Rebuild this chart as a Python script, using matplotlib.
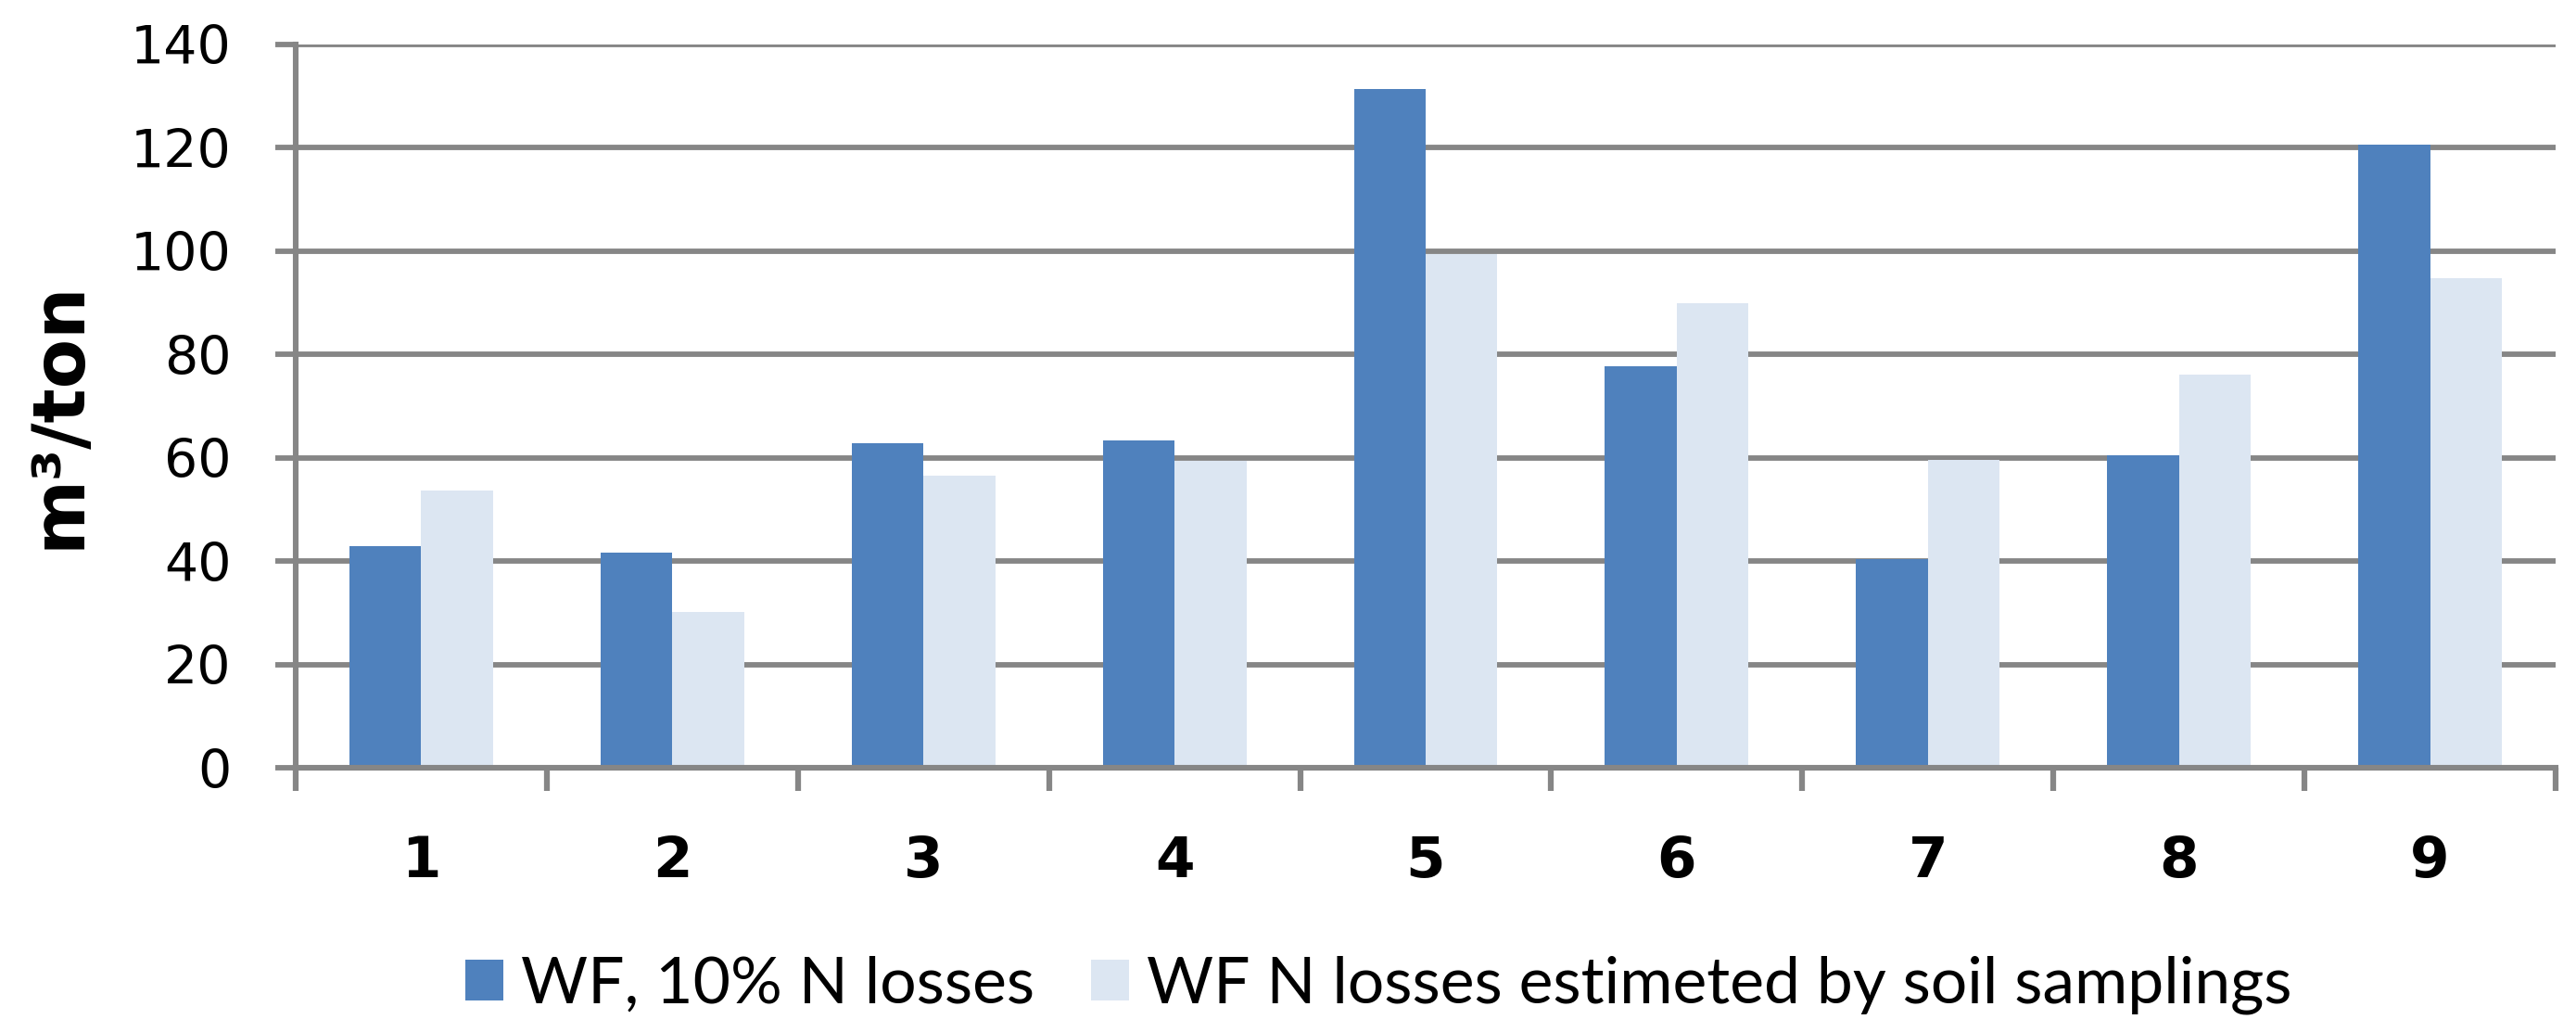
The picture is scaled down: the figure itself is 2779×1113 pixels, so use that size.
import matplotlib
matplotlib.use("Agg")
import matplotlib.pyplot as plt
from matplotlib.patches import Patch
import numpy as np

categories = ["1", "2", "3", "4", "5", "6", "7", "8", "9"]
wf_10pct = [42.9, 41.7, 62.8, 63.4, 131.4, 77.6, 40.3, 60.5, 120.5]
wf_soil = [53.7, 30.2, 56.5, 59.4, 99.4, 89.8, 59.6, 76.0, 94.8]
series_names = ["WF, 10% N losses", "WF N losses estimeted by soil samplings"]
y_ticks = [0, 20, 40, 60, 80, 100, 120, 140]
y_label = "m³/ton"

DARK = "#4F81BD"
LIGHT = "#DCE6F2"
GRID = "#868686"
LEG_FONT = ["Lato", "DejaVu Sans"]

W, H = 2779, 1113
DPI = 100
fig = plt.figure(figsize=(W / DPI, H / DPI), dpi=DPI)
fig.patch.set_facecolor("white")

left, right, bottom, top = 319 / W, 2757 / W, 1 - 828 / H, 1 - 47.6 / H
ax = fig.add_axes([left, bottom, right - left, top - bottom])

n = len(categories)
centers = np.arange(n) + 0.5
bw = 1 / 3.5
ax.bar(centers - bw / 2, wf_10pct, width=bw, color=DARK, zorder=2, label=series_names[0])
ax.bar(centers + bw / 2, wf_soil, width=bw, color=LIGHT, zorder=2, label=series_names[1])

ax.set_xlim(0, n)
ax.set_ylim(0, 140)
ax.set_yticks(y_ticks)
ax.yaxis.grid(True, color=GRID, linewidth=4.2)
ax.set_axisbelow(True)

ax.set_xticks(np.arange(n + 1))
ax.set_xticklabels([])
ax.set_xticks(centers, minor=True)
ax.set_xticklabels(categories, minor=True, fontsize=44, fontweight="bold",
                   fontfamily="DejaVu Sans")
ax.tick_params(axis="x", which="major", length=18, width=4.5, color=GRID, direction="out")
ax.tick_params(axis="x", which="minor", length=0, pad=52)
ax.tick_params(axis="y", length=16, width=4.2, color=GRID, direction="out", pad=34,
               labelsize=41)
for lab in ax.get_yticklabels():
    lab.set_fontfamily("DejaVu Sans")

for s in ["top", "right"]:
    ax.spines[s].set_visible(False)
for s in ["left", "bottom"]:
    ax.spines[s].set_color(GRID)
    ax.spines[s].set_linewidth(4.4)

fig.text(64 / W, 1 - 447 / H, y_label, rotation=90, ha="center", va="center",
         fontsize=56, fontweight="bold", fontfamily="DejaVu Sans")

# fit legend font so that the two label texts span roughly the reference width
fig.canvas.draw()
renderer = fig.canvas.get_renderer()
base_fs = 48
widths = []
for name in series_names:
    t = fig.text(0, 0, name, fontfamily=LEG_FONT, fontsize=base_fs)
    widths.append(t.get_window_extent(renderer).width)
    t.remove()
target_text_px = 539 + 1248
fs = base_fs * target_text_px / sum(widths)
fs = min(fs, 52)
em_px = fs * DPI / 72

handles = [Patch(facecolor=DARK, edgecolor="none"), Patch(facecolor=LIGHT, edgecolor="none")]
fig.legend(handles, series_names, loc="center", bbox_to_anchor=(1487 / W, 1 - 1062 / H),
           ncol=2, frameon=False, prop={"family": LEG_FONT, "size": fs},
           handlelength=41 / em_px, handleheight=41 / em_px,
           handletextpad=19 / em_px, columnspacing=61 / em_px,
           borderpad=0, borderaxespad=0)

fig.savefig("out.png", dpi=DPI, facecolor="white")
